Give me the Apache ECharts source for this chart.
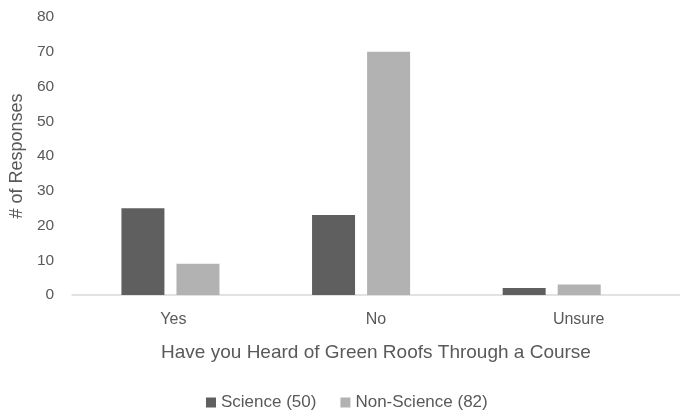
<!DOCTYPE html>
<html>
<head>
<meta charset="utf-8">
<script src="https://cdn.jsdelivr.net/npm/echarts@6/dist/echarts.min.js"></script>
<style>
  html, body { margin: 0; padding: 0; background: #fff; }
  #chart { width: 680px; height: 414px; }
</style>
</head>
<body>
<div id="chart"></div>
<script>
// Survey answers: heard of green roofs through a course?
const categories = ['Yes', 'No', 'Unsure'];
const scienceName = 'Science (50)';
const nonScienceName = 'Non-Science (82)';
const scienceValues = [25, 23, 2];
const nonScienceValues = [9, 70, 3];
const yTicks = { min: 0, max: 80, interval: 10 };

const FONT = '"Liberation Sans", Arial, sans-serif';
const TEXT = '#595959';

const chart = echarts.init(document.getElementById('chart'), null, { renderer: 'canvas' });

chart.setOption({
  animation: false,
  textStyle: { fontFamily: FONT, color: TEXT },
  legend: {
    data: [scienceName, nonScienceName],
    left: 206,
    top: 394,
    itemWidth: 10,
    itemHeight: 10,
    itemGap: 24,
    icon: 'rect',
    textStyle: { fontSize: 17, color: TEXT, fontFamily: FONT },
    padding: 0
  },
  grid: [
    // bar area
    { left: 74, right: 33, top: 17, bottom: 119 },
    // category label band and baseline
    { left: 72, right: -4, top: 17, bottom: 119 }
  ],
  xAxis: [
    {
      type: 'category',
      gridIndex: 0,
      data: categories,
      axisLine: { show: false },
      axisTick: { show: false },
      axisLabel: { show: false }
    },
    {
      type: 'category',
      gridIndex: 1,
      data: categories,
      axisLine: { show: true, lineStyle: { color: '#d9d9d9', width: 1.5 } },
      axisTick: { show: false },
      axisLabel: { fontSize: 16, color: TEXT, margin: 17, fontFamily: FONT },
      name: 'Have you Heard of Green Roofs Through a Course',
      nameLocation: 'middle',
      nameGap: 48,
      nameTextStyle: { fontSize: 19, color: TEXT, fontFamily: FONT }
    }
  ],
  yAxis: [
    {
      type: 'value',
      gridIndex: 0,
      min: yTicks.min,
      max: yTicks.max,
      interval: yTicks.interval,
      axisLine: { show: false },
      axisTick: { show: false },
      splitLine: { show: false },
      axisLabel: { fontSize: 15.5, color: TEXT, margin: 21, fontFamily: FONT },
      name: '# of Responses',
      nameLocation: 'middle',
      nameGap: 47,
      nameTextStyle: { fontSize: 18, color: TEXT, fontFamily: FONT }
    },
    {
      type: 'value',
      gridIndex: 1,
      min: yTicks.min,
      max: yTicks.max,
      interval: yTicks.interval,
      show: false
    }
  ],
  series: [
    {
      name: scienceName,
      type: 'bar',
      xAxisIndex: 0,
      yAxisIndex: 0,
      data: scienceValues,
      barWidth: 43,
      barGap: '28%',
      itemStyle: { color: '#5f5f5f' }
    },
    {
      name: nonScienceName,
      type: 'bar',
      xAxisIndex: 0,
      yAxisIndex: 0,
      data: nonScienceValues,
      barWidth: 43,
      barGap: '28%',
      itemStyle: { color: '#b2b2b2' }
    }
  ]
});
</script>
</body>
</html>
